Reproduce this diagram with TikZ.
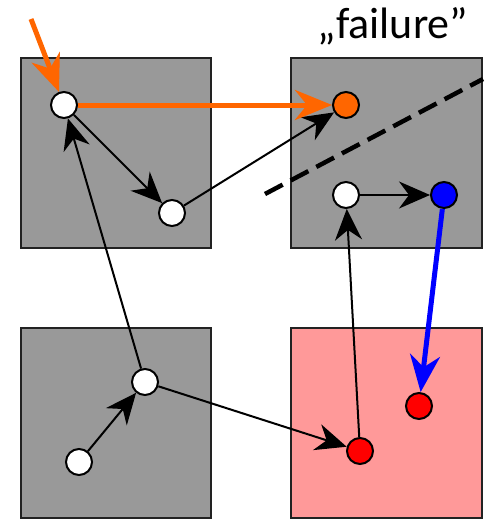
\documentclass[tikz,border=0pt]{standalone}
\usepackage{fontspec}
\setmainfont{Carlito}
\usetikzlibrary{arrows.meta}
\definecolor{boxgray}{HTML}{999999}
\definecolor{boxpink}{HTML}{FF9999}
\definecolor{darkedge}{HTML}{222222}
\definecolor{hotorange}{HTML}{FF6600}
\begin{document}
\begin{tikzpicture}[x=1pt,y=-1pt,
  region/.style={draw=darkedge,line width=2.5pt,fill=boxgray},
  state/.style={circle,draw=black,line width=2pt,fill=white,minimum size=26pt,inner sep=0pt},
  link/.style={draw=black,line width=2pt,-{Stealth[length=31pt,width=27pt,inset=10pt]}},
  thicklink/.style={line width=5pt,-{Stealth[length=37pt,width=30pt,inset=12pt]}}]
\useasboundingbox (0,0) rectangle (485,519);
% four regions
\draw[region] (21,58) rectangle (211,248);
\draw[region] (291,58) rectangle (482,248);
\draw[region] (21,328) rectangle (211,518);
\draw[region,fill=boxpink] (291,328) rectangle (482,518);
% label
\node[anchor=base,font=\fontsize{44}{48}\selectfont] (lbl) at (393,38) {„failure”};
% separating dashed line
\draw[line width=4.5pt,dash pattern=on 20pt off 9pt] (265,194) -- (483,79);
% states
\node[state] (a) at (64,105) {};
\node[state] (b) at (172,213) {};
\node[state,fill=hotorange] (o) at (346,105) {};
\node[state] (w) at (346,195) {};
\node[state,fill=blue] (u) at (444,195) {};
\node[state] (c) at (145,382) {};
\node[state] (d) at (79,462) {};
\node[state,fill=red] (r1) at (360,451) {};
\node[state,fill=red] (r2) at (419,406) {};
\coordinate (start) at (31,19);
% transitions
\draw[link] (a) -- (b);
\draw[link] (b) -- (o);
\draw[link] (c) -- (a);
\draw[link] (d) -- (c);
\draw[link] (c) -- (r1);
\draw[link] (r1) -- (w);
\draw[link] (w) -- (u);
\draw[thicklink,hotorange] (start) -- (a);
\draw[thicklink,hotorange] (a) -- (o);
\draw[thicklink,blue] (u) -- (r2);
\end{tikzpicture}
\end{document}
